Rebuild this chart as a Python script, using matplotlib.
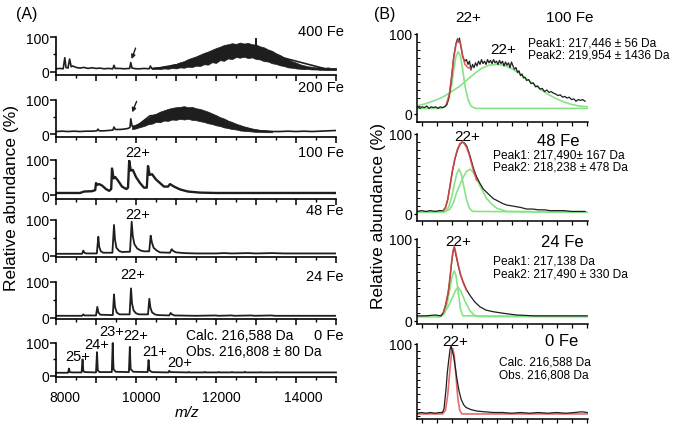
import matplotlib
matplotlib.use('Agg')
import matplotlib.pyplot as plt
from matplotlib.ticker import MultipleLocator, FixedLocator, NullFormatter

plt.rcParams['font.family'] = ['Liberation Sans', 'DejaVu Sans']

# ---------------- panel A data (m/z, relative abundance %) ----------------
fe400_mz = [8000, 8100, 8180, 8220, 8250, 8300, 8340, 8380, 8420, 8500, 8600, 8700, 8800, 8900,
            9000, 9100, 9200, 9300, 9420, 9450, 9480, 9600, 9700, 9840, 9870, 9900, 10000, 10100,
            10200, 10330, 10360, 10390, 10500, 12990, 13000, 13010, 14800, 15000]
fe400_int = [8, 9, 8, 40, 12, 10, 36, 14, 16, 12, 10, 12, 9, 11,
             9, 10, 8, 9, 8, 18, 9, 9, 8, 9, 26, 10, 8, 8,
             9, 8, 16, 9, 9, 60, 95, 60, 6, 6]
fe400_band_mz = [10400, 10500, 10600, 10700, 10800, 10900, 11000, 11100, 11200, 11300, 11400, 11500,
                 11600, 11700, 11800, 11900, 12000, 12100, 12200, 12300, 12400, 12500, 12600, 12700,
                 12800, 12900, 13000, 13100, 13200, 13300, 13400, 13500, 13600, 13700, 13800, 13900,
                 14000, 14100, 14200, 14300, 14400, 14500, 14600, 14700, 14800, 14900, 15000]
fe400_band_lo = [7, 8, 7, 9, 8, 10, 9, 12, 11, 14, 13, 17, 16, 21, 20, 27, 25, 33, 31, 38, 36, 42,
                 40, 43, 39, 41, 36, 35, 30, 29, 24, 22, 18, 16, 12, 11, 9, 8, 7, 7, 6, 6, 5, 5, 4, 5, 4]
fe400_band_hi = [11, 13, 12, 16, 15, 20, 22, 27, 30, 36, 40, 44, 49, 54, 58, 63, 68, 72, 77, 79, 82, 80,
                 84, 81, 83, 79, 78, 73, 70, 64, 60, 53, 48, 41, 36, 30, 26, 21, 18, 15, 14, 12, 13, 11,
                 12, 10, 11]

fe200_mz = [8000, 8150, 8300, 8450, 8600, 8750, 8900, 9020, 9050, 9080, 9200, 9300, 9420, 9450,
            9480, 9600, 9700, 9800, 9850, 9870, 9900, 10000, 10350, 11000, 12000, 13000, 13400,
            13600, 13800, 14000, 14200, 14400, 14600, 14800, 15000]
fe200_int = [8, 9, 8, 9, 8, 9, 9, 10, 15, 10, 10, 11, 12, 21,
             14, 14, 15, 17, 20, 45, 24, 22, 54, 60, 40, 10, 8,
             8, 9, 8, 9, 8, 9, 10, 11]
fe200_band_mz = [9900, 10000, 10100, 10200, 10300, 10400, 10500, 10600, 10700, 10800, 10900, 11000,
                 11100, 11200, 11300, 11400, 11500, 11600, 11700, 11800, 11900, 12000, 12100, 12200,
                 12300, 12400, 12500, 12600, 12700, 12800, 12900, 13000, 13100, 13200, 13300, 13400]
fe200_band_lo = [15, 17, 21, 24, 29, 31, 36, 35, 40, 39, 43, 42, 45, 43, 45, 42, 41, 38, 36, 32, 30,
                 26, 24, 20, 18, 15, 14, 11, 10, 9, 8, 7, 7, 6, 6, 6]
fe200_band_hi = [24, 29, 34, 42, 48, 56, 60, 66, 70, 74, 77, 79, 80, 82, 79, 80, 76, 74, 70, 66, 61,
                 56, 50, 46, 40, 36, 31, 27, 23, 20, 17, 15, 13, 12, 11, 10]

fe100_mz = [8000, 8600, 8650, 8700, 8900, 8980, 9000, 9030, 9080, 9150, 9250, 9330, 9380, 9400,
            9440, 9480, 9550, 9650, 9760, 9800, 9830, 9870, 9920, 10000, 10100, 10200, 10270,
            10300, 10340, 10400, 10500, 10600, 10700, 10800, 10850, 10950, 11100, 11300, 11600,
            12000, 15000]
fe100_int = [7, 7, 9, 11, 12, 15, 35, 30, 32, 28, 18, 13, 18, 76,
             48, 52, 42, 25, 18, 22, 98, 70, 72, 52, 35, 22, 22,
             83, 58, 60, 45, 35, 25, 25, 32, 25, 17, 11, 8,
             7, 7]

fe48_mz = [8000, 8500, 8650, 8683, 8710, 8760, 9020, 9058, 9080, 9120, 9180, 9410, 9450, 9475,
           9510, 9580, 9650, 9850, 9892, 9920, 9960, 10030, 10120, 10200, 10330, 10367, 10395,
           10440, 10520, 10600, 10850, 10892, 10930, 11000, 11200, 11500, 12000, 12200, 12400,
           12800, 13000, 13400, 13700, 14000, 15000]
fe48_int = [5, 5, 5, 14, 8, 6, 6, 53, 25, 12, 8, 8, 86, 45,
            22, 13, 10, 11, 95, 55, 32, 20, 14, 12, 12, 56, 38,
            22, 14, 9, 8, 18, 13, 9, 7, 6, 6, 7, 6,
            7, 6, 7, 6, 6, 6]

fe24_mz = [8000, 8600, 8650, 8683, 8710, 9000, 9033, 9060, 9110, 9420, 9450, 9475, 9520, 9590,
           9840, 9875, 9900, 9940, 10000, 10080, 10300, 10333, 10360, 10400, 10470, 10550, 10830,
           10867, 10900, 10960, 11500, 12000, 12050, 12400, 12450, 12900, 12950, 13400, 13450,
           14000, 15000]
fe24_int = [5, 5, 5, 9, 6, 6, 30, 14, 8, 7, 65, 30, 14, 9,
            9, 82, 40, 20, 12, 9, 9, 53, 28, 15, 9, 7, 6,
            13, 9, 6, 5, 6, 5, 6, 5, 6, 5, 6, 5,
            5, 5]

fe0_mz = [8000, 8300, 8325, 8345, 8400, 8640, 8664, 8684, 8720, 9000, 9025, 9045, 9090, 9395,
          9418, 9438, 9490, 9822, 9846, 9866, 9930, 10290, 10314, 10336, 10400, 10810, 10830,
          10860, 11300, 11320, 11340, 11700, 11720, 11740, 12050, 12070, 12090, 12380, 12400,
          12420, 12700, 12720, 12740, 13100, 13120, 13140, 13500, 13520, 13540, 15000]
fe0_int = [9, 9, 22, 11, 10, 10, 50, 14, 11, 10, 72, 16, 11, 11,
           100, 20, 12, 11, 88, 20, 12, 11, 48, 16, 11, 10, 15,
           11, 10, 11.5, 10, 10, 11.5, 10, 10, 11.5, 10, 10, 11.5,
           10, 10, 12, 10, 10, 11, 10, 10, 11, 10, 10]

mz_tick_labels = ['8000', '10000', '12000', '14000']

# ---------------- panel B data (mass, Da) ----------------
b100_black_x = [214750, 214900, 215050, 215200, 215350, 215500, 215650, 215800, 215950, 216100,
                216250, 216400, 216550, 216700, 216850, 217000, 217150, 217300, 217400, 217470,
                217530, 217620, 217750, 217880, 218000, 218100, 218200, 218300, 218400, 218500,
                218600, 218700, 218800, 218900, 219000, 219100, 219200, 219300, 219400, 219500,
                219600, 219700, 219800, 219900, 220000, 220100, 220200, 220300, 220400, 220500,
                220600, 220700, 220800, 220900, 221000, 221100, 221200, 221300, 221400, 221500,
                221600, 221700, 221800, 221900, 222000, 222150, 222300, 222450, 222600, 222750,
                222900, 223050, 223200, 223350, 223500, 223650, 223800, 223950, 224100, 224250,
                224400, 224550, 224700, 224850, 225000, 225150, 225300, 225450, 225600, 225750,
                225900]
b100_black_y = [9, 7, 9, 8, 10, 7, 9, 8, 9, 7,
                9, 8, 9, 12, 22, 45, 72, 88, 94, 90,
                95, 85, 72, 66, 68, 62, 66, 55, 62, 58,
                64, 60, 66, 62, 68, 63, 66, 62, 68, 64,
                67, 63, 68, 64, 66, 62, 67, 63, 66, 60,
                65, 61, 64, 58, 65, 60, 56, 58, 52, 54,
                48, 50, 45, 46, 42, 43, 38, 39, 34, 35,
                31, 32, 28, 30, 27, 28, 26, 25, 23, 24,
                21, 22, 20, 21, 18, 19, 16, 18, 17, 18,
                16]
b100_green1_x = [214700, 216300, 216600, 216800, 217000, 217150, 217300, 217450, 217600, 217750,
                 217900, 218100, 218300, 218600, 226100]
b100_green1_y = [7, 7, 10, 18, 35, 55, 72, 78, 72, 55, 35, 18, 10, 7, 7]
b100_green2_x = [214700, 215300, 215900, 216500, 217000, 217500, 218000, 218500, 219000, 219500,
                 220000, 220500, 221000, 221500, 222000, 222500, 223000, 223500, 224000, 224500,
                 225000, 225500, 226100]
b100_green2_y = [10, 13, 17, 22, 28, 34, 42, 50, 57, 61, 62, 61, 57, 51, 44, 37, 30, 24, 19, 15,
                 12, 10, 9]
b100_red_x = [216680, 216850, 217000, 217150, 217300, 217450, 217600, 217750, 217900, 218100, 218300]
b100_red_y = [14, 24, 45, 70, 87, 93, 88, 72, 62, 58, 57]

b48_black_x = [214700, 215000, 215300, 215600, 215900, 216200, 216450, 216600, 216750, 216900,
               217050, 217233, 217400, 217567, 217720, 217850, 218013, 218180, 218347, 218500,
               218680, 218900, 219120, 219450, 219787, 220000, 220200, 220400, 220680, 221000,
               221300, 221600, 222013, 222400, 222800, 223200, 223567, 224000, 224500, 225000,
               225500, 225900]
b48_black_y = [3, 4, 3, 4, 3, 4, 4, 8, 18, 35,
               52, 69, 80, 87, 90, 89, 85, 76, 65, 55,
               46, 38, 31, 25, 19, 17, 15, 13, 11, 10,
               9, 8, 6, 6, 5, 5, 4, 4, 4, 3,
               3, 3]
b48_green1_x = [214700, 216500, 216800, 217000, 217200, 217350, 217500, 217650, 217800, 218000,
                218200, 218400, 226100]
b48_green1_y = [2, 2, 8, 20, 38, 50, 56, 50, 36, 18, 7, 3, 2]
b48_green2_x = [214700, 216600, 216900, 217150, 217347, 217570, 217787, 218000, 218238, 218500,
                218700, 218900, 219150, 219347, 219700, 220013, 220680, 226100]
b48_green2_y = [2, 3, 6, 15, 27, 37, 46, 53, 56, 51, 43, 35, 26, 19, 12, 7, 3, 2]
b48_red_x = [216450, 216600, 216750, 216900, 217050, 217233, 217400, 217567, 217720, 217850,
             218013, 218180, 218347, 218500, 218680]
b48_red_y = [4, 8, 18, 35, 53, 70, 81, 88, 90, 88, 83, 74, 62, 52, 42]

b24_black_x = [214700, 215300, 215900, 216300, 216456, 216620, 216787, 216900, 217013, 217100,
               217187, 217300, 217453, 217600, 217787, 218000, 218233, 218550, 218900, 219300,
               219787, 220500, 221347, 222500, 224000, 225500, 226050]
b24_black_y = [6, 6, 7, 6, 10, 20, 35, 52, 72, 84,
               90, 80, 67, 56, 47, 38, 31, 23, 17, 13,
               11, 9, 7, 6, 6, 6, 6]
b24_green1_x = [214700, 216300, 216500, 216700, 216900, 217050, 217187, 217300, 217450, 217600,
                217750, 226100]
b24_green1_y = [5, 5, 8, 20, 40, 55, 61, 55, 35, 14, 6, 5]
b24_green2_x = [214700, 216200, 216500, 216800, 217100, 217300, 217453, 217650, 217900, 218200,
                218500, 218800, 226100]
b24_green2_y = [5, 5, 9, 18, 30, 38, 41, 35, 24, 13, 7, 5, 5]
b24_red_x = [216456, 216620, 216787, 216900, 217013, 217100, 217187, 217300, 217453, 217600,
             217787, 218000]
b24_red_y = [10, 20, 36, 53, 73, 85, 91, 82, 68, 57, 46, 37]

b0_black_x = [214700, 215000, 215300, 215600, 215900, 216200, 216400, 216500, 216633, 216720,
              216800, 216900, 216967, 217050, 217133, 217250, 217367, 217500, 217633, 217800,
              217967, 218300, 218700, 219200, 219800, 220400, 221000, 221600, 222200, 222800,
              223400, 224000, 224600, 225200, 225700, 226050]
b0_black_y = [4, 5, 4, 5, 4, 5, 5, 10, 37, 60,
              75, 92, 98, 90, 84, 68, 51, 35, 24, 16,
              12, 9, 7, 6, 5, 5, 4, 5, 4, 5,
              4, 5, 4, 5, 6, 5]
b0_red_x = [214700, 216400, 216600, 216750, 216900, 217000, 217080, 217180, 217300, 217420,
            217550, 217700, 226100]
b0_red_y = [3, 3, 8, 30, 65, 88, 94, 85, 55, 25, 8, 3, 3]

# ---------------- layout helpers ----------------
W, H = 675, 431
fig = plt.figure(figsize=(W / 100, H / 100), dpi=100)


def add_ax(l, t, r, b):
    return fig.add_axes([l / W, 1 - b / H, (r - l) / W, (b - t) / H])


def ftext(x, y, s, **kw):
    kw.setdefault('va', 'center')
    fig.text(x / W, 1 - y / H, s, **kw)


BLACK = '#1e1e1e'
RED = '#e04848'
GREEN = '#86e486'

# ---------------- panel A ----------------
rowsA = [  # top, bottom, ymin
    (38, 76, -10), (101, 138, -8), (161, 200, -10),
    (221, 258, -4), (283, 320, -4), (344, 378, -4)]
axA = []
for i, (t, b, ymin) in enumerate(rowsA):
    ax = add_ax(56, t, 336, b)
    ax.set_xlim(8000, 15000)
    ax.set_ylim(ymin, 100)
    for s in ['top', 'right']:
        ax.spines[s].set_visible(False)
    for s in ['left', 'bottom']:
        ax.spines[s].set_linewidth(1.2)
    ax.xaxis.set_major_locator(MultipleLocator(1000))
    ax.xaxis.set_minor_locator(MultipleLocator(500))
    ax.xaxis.set_major_formatter(NullFormatter())
    ax.set_yticks([0, 100])
    ax.yaxis.set_minor_locator(FixedLocator([50]))
    ax.tick_params(axis='both', which='major', length=4, width=1.1, labelsize=10, pad=1)
    ax.tick_params(axis='both', which='minor', length=2.5, width=1.0)
    axA.append(ax)

# m/z tick labels sit slightly right of their ticks in the original
for lab, x in zip(mz_tick_labels, [65, 141, 221, 303]):
    ftext(x, 398, lab, fontsize=10, ha='center')

axA[0].plot(fe400_mz, fe400_int, color=BLACK, lw=1.2)
axA[0].fill_between(fe400_band_mz, fe400_band_lo, fe400_band_hi, color=BLACK, lw=0.5, edgecolor=BLACK)
axA[1].plot(fe200_mz, fe200_int, color=BLACK, lw=1.2)
axA[1].fill_between(fe200_band_mz, fe200_band_lo, fe200_band_hi, color=BLACK, lw=0.5, edgecolor=BLACK)
axA[2].plot(fe100_mz, fe100_int, color=BLACK, lw=1.7)
axA[3].plot(fe48_mz, fe48_int, color=BLACK, lw=1.3)
axA[4].plot(fe24_mz, fe24_int, color=BLACK, lw=1.3)
axA[5].plot(fe0_mz, fe0_int, color=BLACK, lw=1.3, clip_on=False)

arrow = dict(arrowstyle='-|>', color=BLACK, lw=1.0, mutation_scale=6, shrinkA=0, shrinkB=0)
axA[0].annotate('', xy=(9890, 36), xytext=(9990, 68), arrowprops=arrow)
axA[1].annotate('', xy=(9905, 64), xytext=(10015, 96), arrowprops=arrow, annotation_clip=False)

ftext(27, 15, '(A)', fontsize=11.5, ha='center')
ftext(344, 32, '400 Fe', fontsize=10.5, ha='right')
ftext(344, 88, '200 Fe', fontsize=10.5, ha='right')
ftext(344, 153, '100 Fe', fontsize=10.5, ha='right')
ftext(344, 211, '48 Fe', fontsize=10.5, ha='right')
ftext(344, 277, '24 Fe', fontsize=10.5, ha='right')
ftext(344, 336, '0 Fe', fontsize=10.5, ha='right')
ftext(138, 153, '22+', fontsize=10.5, ha='center')
ftext(138, 215, '22+', fontsize=10.5, ha='center')
ftext(133, 275, '22+', fontsize=10.5, ha='center')
ftext(112, 332, '23+', fontsize=10.5, ha='center')
ftext(136, 336, '22+', fontsize=10.5, ha='center')
ftext(97, 345, '24+', fontsize=10.5, ha='center')
ftext(78, 357, '25+', fontsize=10.5, ha='center')
ftext(155, 352, '21+', fontsize=10.5, ha='center')
ftext(180, 363, '20+', fontsize=10.5, ha='center')
ftext(186, 336, 'Calc. 216,588 Da', fontsize=10, ha='left')
ftext(186, 352, 'Obs. 216,808 \u00b1 80 Da', fontsize=10, ha='left')
ftext(12, 198, 'Relative abundance (%)', fontsize=12.5, ha='center', rotation=90)
ftext(187, 413, 'm/z', fontsize=11, ha='center', style='italic')

# ---------------- panel B ----------------
rowsB = [(35, 123, -10), (135, 222, -9), (240, 325, -4), (345, 420, -4)]
axB = []
for i, (t, b, ymin) in enumerate(rowsB):
    ax = add_ax(417, t, 588, b)
    ax.set_xlim(214700, 226100)
    ax.set_ylim(ymin, 100)
    for s in ['top', 'right']:
        ax.spines[s].set_visible(False)
    for s in ['left', 'bottom']:
        ax.spines[s].set_linewidth(1.1)
    ax.xaxis.set_major_locator(MultipleLocator(1000))
    ax.xaxis.set_major_formatter(NullFormatter())
    ax.tick_params(axis='x', length=3, width=0.9)
    ax.set_yticks([0, 100] if i < 3 else [100])
    ax.yaxis.set_minor_locator(MultipleLocator(10))
    ax.tick_params(axis='y', which='major', length=2.5, width=0.9, labelsize=10, pad=1)
    ax.tick_params(axis='y', which='minor', direction='in', length=2, width=0.7)
    axB.append(ax)

for ax, gx1, gy1, gx2, gy2 in [(axB[0], b100_green1_x, b100_green1_y, b100_green2_x, b100_green2_y),
                                (axB[1], b48_green1_x, b48_green1_y, b48_green2_x, b48_green2_y),
                                (axB[2], b24_green1_x, b24_green1_y, b24_green2_x, b24_green2_y)]:
    ax.plot(gx1, gy1, color=GREEN, lw=1.2)
    ax.plot(gx2, gy2, color=GREEN, lw=1.2)

axB[0].plot(b100_black_x, b100_black_y, color=BLACK, lw=0.9)
axB[0].plot(b100_red_x, b100_red_y, color=RED, lw=1.2, alpha=0.85)
axB[1].plot(b48_black_x, b48_black_y, color=BLACK, lw=0.9)
axB[1].plot(b48_red_x, b48_red_y, color=RED, lw=1.2, alpha=0.85)
axB[2].plot(b24_black_x, b24_black_y, color=BLACK, lw=0.9)
axB[2].plot(b24_red_x, b24_red_y, color=RED, lw=1.2, alpha=0.85)
axB[3].plot(b0_red_x, b0_red_y, color=RED, lw=1.2, alpha=0.8)
axB[3].plot(b0_black_x, b0_black_y, color=BLACK, lw=0.9)

ftext(385, 15, '(B)', fontsize=11.5, ha='center')
ftext(468, 18, '22+', fontsize=11, ha='center')
ftext(570, 18, '100 Fe', fontsize=11, ha='center')
ftext(503, 50, '22+', fontsize=11, ha='center')
ftext(528, 43, 'Peak1: 217,446 \u00b1 56 Da', fontsize=8.6, ha='left')
ftext(528, 56, 'Peak2: 219,954 \u00b1 1436 Da', fontsize=8.6, ha='left')
ftext(467, 137, '22+', fontsize=11, ha='center')
ftext(558, 142, '48 Fe', fontsize=12, ha='center')
ftext(493, 156, 'Peak1: 217,490\u00b1 167 Da', fontsize=8.6, ha='left')
ftext(493, 168, 'Peak2: 218,238 \u00b1 478 Da', fontsize=8.6, ha='left')
ftext(458, 242, '22+', fontsize=11, ha='center')
ftext(562, 243, '24 Fe', fontsize=12, ha='center')
ftext(493, 262, 'Peak1: 217,138 Da', fontsize=8.6, ha='left')
ftext(493, 275, 'Peak2: 217,490 \u00b1 330 Da', fontsize=8.6, ha='left')
ftext(455, 342, '22+', fontsize=11, ha='center')
ftext(562, 342, '0 Fe', fontsize=12, ha='center')
ftext(499, 363, 'Calc. 216,588 Da', fontsize=8.6, ha='left')
ftext(499, 376, 'Obs. 216,808 Da', fontsize=8.6, ha='left')
ftext(379, 216, 'Relative abundance (%)', fontsize=12.5, ha='center', rotation=90)

fig.savefig('out.png', dpi=100)
